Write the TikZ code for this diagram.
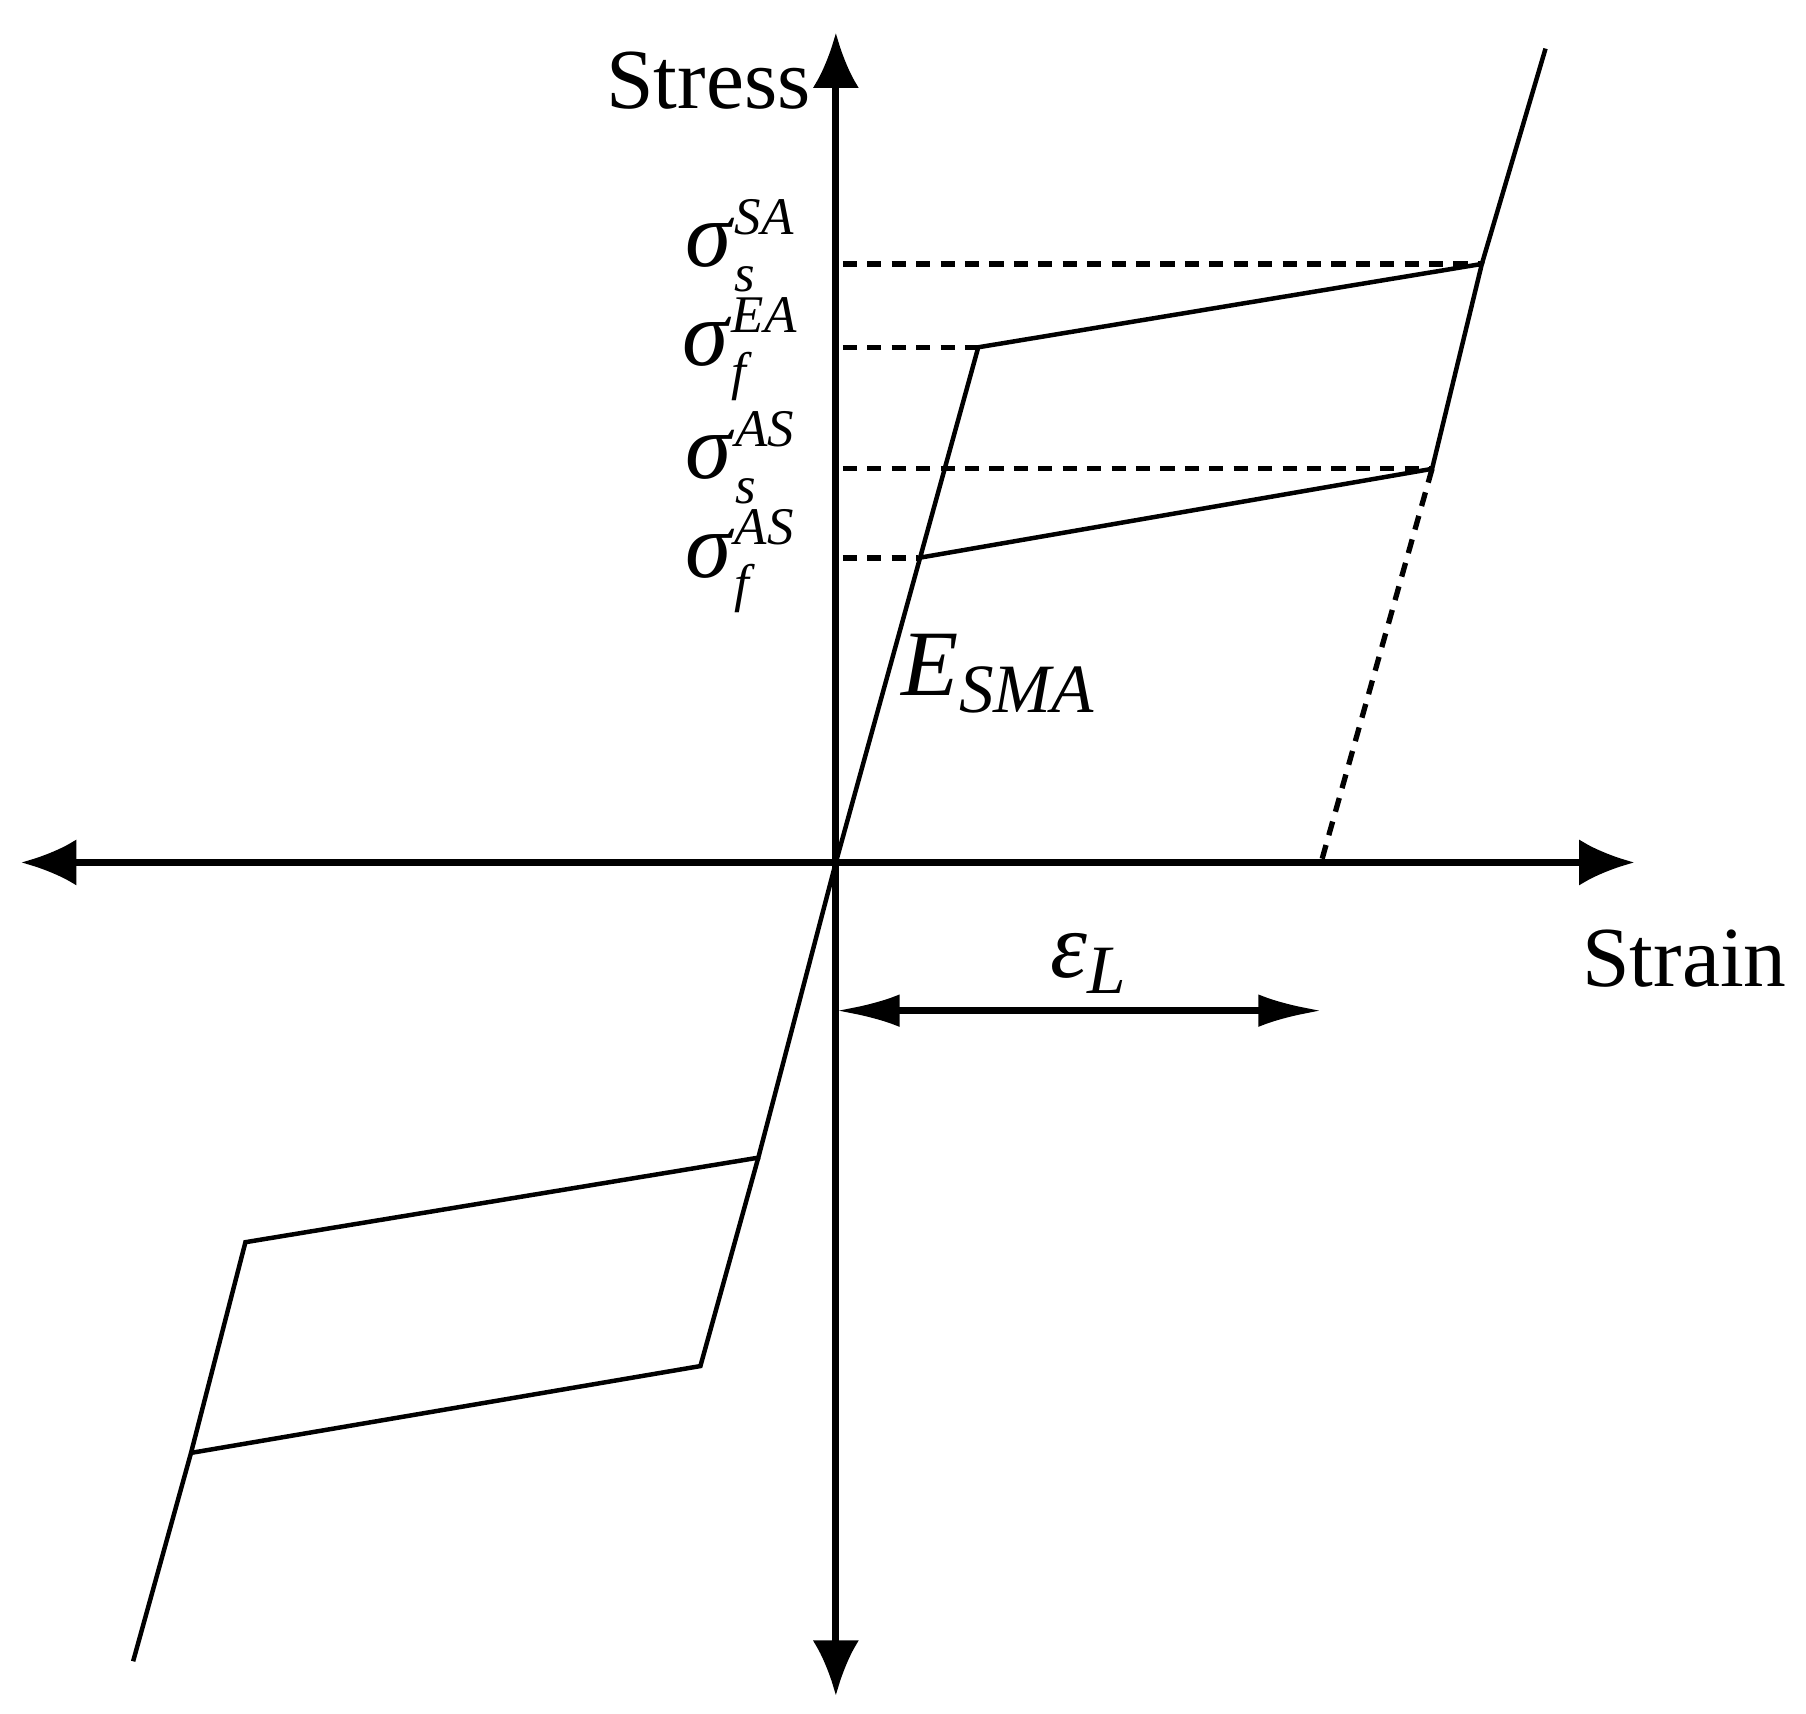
\documentclass[tikz,border=0pt]{standalone}
\usepackage{fontspec}
\setmainfont{Liberation Serif}
\usetikzlibrary{arrows.meta}
\newcommand\sigl[3]{\textit{#1}\rlap{\raisebox{8pt}{\fontsize{13}{15}\selectfont\textit{#2}}}\raisebox{-6pt}{\fontsize{13}{15}\selectfont\textit{#3}}\phantom{\fontsize{13}{15}\selectfont\textit{#2}}}
\begin{document}
\begin{tikzpicture}[x=0.01cm,y=-0.01cm,
  axis/.style={line width=1.7pt,{Latex[length=0.48cm,width=0.4cm]}-{Latex[length=0.48cm,width=0.4cm]}},
  curve/.style={line width=1.1pt},
  dashline/.style={line width=1.3pt,dash pattern=on 3.5pt off 2.5pt},
  lbl/.style={font=\fontsize{21}{25}\selectfont,inner sep=0pt}]
\useasboundingbox (0,0) rectangle (1560,1480);
\coordinate (O) at (722,745);
\coordinate (xl) at (18,745); \coordinate (xr) at (1412,745);
\coordinate (yt) at (722,28); \coordinate (yb) at (722,1465);
\draw[axis] (xl) -- (xr);
\draw[axis] (yb) -- (yt);
\coordinate (A) at (845,300); \coordinate (B) at (1280,228); \coordinate (T) at (1335,42);
\coordinate (C) at (1237,405); \coordinate (D) at (793,482); \coordinate (F) at (1142,742);
\draw[curve] (O) -- (A) -- (B) -- (C) -- (D);
\draw[curve] (B) -- (T);
\draw[dashline] (C) -- (F);
\draw[dashline] (728,228) -- (B);
\draw[dashline] (728,300) -- (A);
\draw[dashline] (728,405) -- (C);
\draw[dashline] (728,482) -- (D);
\coordinate (P) at (655,1000); \coordinate (Q) at (212,1073); \coordinate (R) at (165,1255);
\coordinate (S) at (115,1435); \coordinate (U) at (605,1180);
\draw[curve] (O) -- (P) -- (Q) -- (R) -- (S);
\draw[curve] (P) -- (U) -- (R);
\coordinate (e1) at (722,873); \coordinate (e2) at (1142,873);
\draw[line width=1.7pt,{Latex[length=0.55cm,width=0.28cm]}-{Latex[length=0.55cm,width=0.28cm]}] (e1) -- (e2);
\node[lbl] (stress) at (612,70) {Stress};
\node[lbl] (strain) at (1455,828) {Strain};
\node[lbl,font=\fontsize{23}{27}\selectfont] (s1) at (648,212) {\sigl{σ}{SA}{s}};
\node[lbl,font=\fontsize{23}{27}\selectfont] (s2) at (648,302) {\sigl{σ}{EA}{f}};
\node[lbl,font=\fontsize{23}{27}\selectfont] (s3) at (648,395) {\sigl{σ}{AS}{s}};
\node[lbl,font=\fontsize{23}{27}\selectfont] (s4) at (648,485) {\sigl{σ}{AS}{f}};
\node[lbl,font=\fontsize{23}{27}\selectfont] (E) at (862,582) {\textit{E}\raisebox{-4pt}{\fontsize{17}{19}\selectfont\textit{SMA}}};
\node[lbl,font=\fontsize{23}{27}\selectfont] (eps) at (940,832) {\textit{ε}\raisebox{-4pt}{\fontsize{17}{19}\selectfont\textit{L}}};
\end{tikzpicture}
\end{document}
